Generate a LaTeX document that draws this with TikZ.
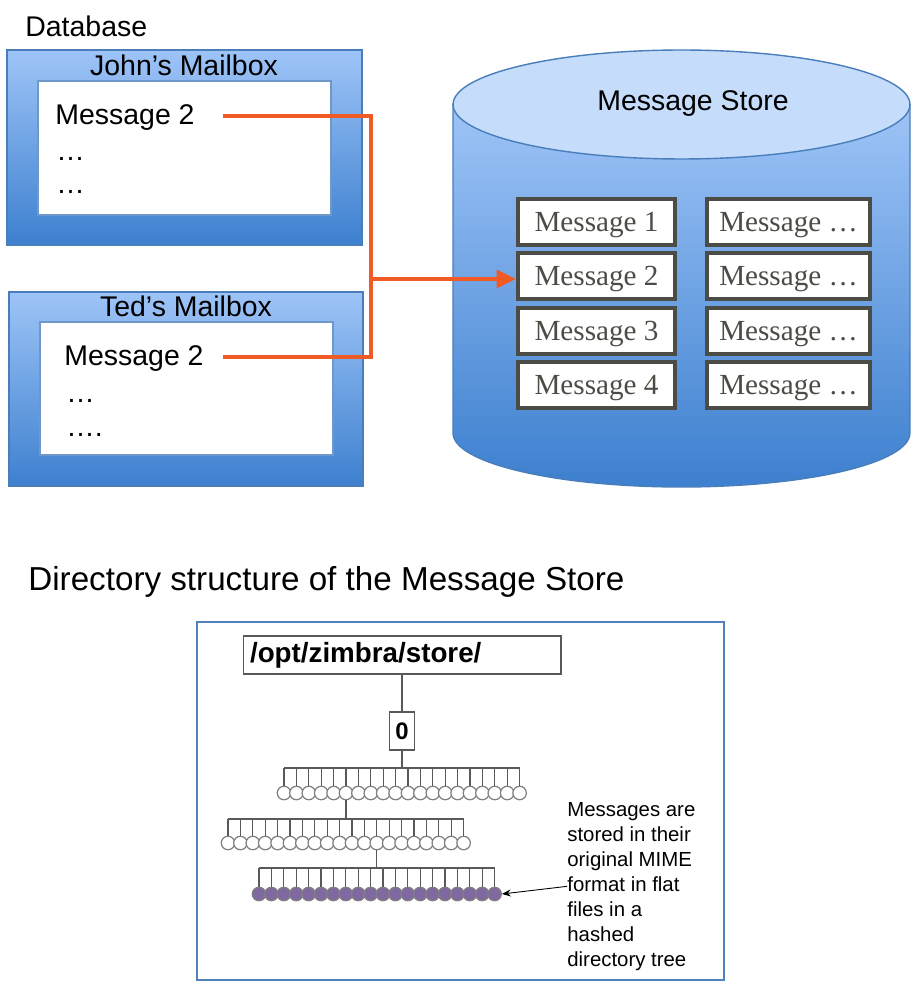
\documentclass[tikz,border=0pt]{standalone}
\usepackage{fontspec}
\setmainfont{Liberation Sans}
\newfontfamily\msgfont{Liberation Serif}
\usepackage{xcolor}
\definecolor{boxtop}{HTML}{9EC4F7}
\definecolor{boxbot}{HTML}{3D80CF}
\definecolor{edgeblue}{HTML}{4A7EBB}
\definecolor{lidblue}{HTML}{C5DCFB}
\definecolor{linkorange}{HTML}{F05A24}
\definecolor{msggray}{HTML}{4C4C47}
\definecolor{leafpurple}{HTML}{8068A0}
\definecolor{frameblue}{HTML}{4F81BD}
\definecolor{twiggray}{HTML}{595959}
\usetikzlibrary{arrows.meta, positioning, calc}

\begin{document}
\begin{tikzpicture}[x=0.02cm, y=-0.02cm,
    big/.style={font=\fontsize{16.2}{19}\selectfont, inner sep=0pt},
    mailbox/.style={draw=edgeblue, line width=0.8pt, top color=boxtop, bottom color=boxbot},
    inbox/.style={draw=edgeblue!80, line width=0.8pt, fill=white},
    link/.style={draw=linkorange, line width=2.3pt},
    msgbox/.style={draw=msggray, line width=2pt, fill=white, minimum height=0.93cm,
      inner sep=0pt, text depth=0pt, text=msggray, font=\msgfont\fontsize{16.6}{19}\selectfont},
    folder/.style={circle, draw=gray, line width=0.7pt, fill=white, minimum size=0.27cm, inner sep=0pt},
    leaf/.style={folder, fill=leafpurple},
    twig/.style={draw=twiggray, line width=0.7pt}]
  \useasboundingbox (0,0) rectangle (918,982);

  % Database with the two mailboxes
  \node[big, anchor=base west] (db) at (25,37) {Database};

  % John's mailbox
  \draw[mailbox] (7,50) rectangle (362,245);
  \draw[inbox] (38,81) rectangle (331,215);
  \node[big, anchor=base] (john) at (184,76) {John’s Mailbox};
  \node[big, anchor=base west] (jmsg) at (55,125) {Message 2};
  \node[big, anchor=base west] (jdots1) at (56,161) {…};
  \node[big, anchor=base west] (jdots2) at (56,194) {…};

  % Ted's mailbox
  \draw[mailbox] (9,292) rectangle (363,486);
  \draw[inbox] (40,322) rectangle (333,455);
  \node[big, anchor=base] (ted) at (186,317) {Ted’s Mailbox};
  \node[big, anchor=base west] (tmsg) at (64,366) {Message 2};
  \node[big, anchor=base west] (tdots1) at (66,402) {…};
  \node[big, anchor=base west] (tdots2) at (66,436) {….};

  % Message store cylinder
  \path[draw=edgeblue, line width=0.8pt, top color=boxtop, bottom color=boxbot]
    (453,104.5) -- (453,433) arc[start angle=180, end angle=360, x radius=4.57cm, y radius=1.08cm]
    -- (910,104.5) -- cycle;
  \draw[draw=edgeblue, line width=0.8pt, fill=lidblue] (681.5,104.5) ellipse[x radius=4.57cm, y radius=1.09cm];
  \node[big, anchor=base] (store) at (693,111) {Message Store};

  % stored messages
  \foreach \i/\y in {1/222, 2/276, 3/331, 4/385} {
    \node[msgbox, minimum width=3.15cm] (m\i) at (596.5,\y) {Message \i};
    \node[msgbox, minimum width=3.27cm] (r\i) at (788.5,\y) {Message …};
  }

  % both mailboxes point to the same copy
  \coordinate (jsrc) at (223,116);
  \coordinate (tsrc) at (223,357);
  \coordinate (bus) at (371,279);
  \draw[link] (jsrc) -| (bus);
  \draw[link] (tsrc) -| (bus);
  \draw[link, -{Triangle[length=11pt, width=10pt]}] (bus) -- (bus -| m2.west);

  % Directory structure
  \node[anchor=base west, inner sep=0pt, font=\fontsize{18.9}{22}\selectfont] (dirtitle) at (28,590)
    {Directory structure of the Message Store};
  \draw[draw=frameblue, line width=1.1pt] (197,622) rectangle (724,980);

  \node[draw=twiggray, line width=0.6pt, minimum height=0.76cm, text width=6.08cm, inner xsep=0.14cm,
    align=left, font=\bfseries\fontsize{15.8}{18}\selectfont] (root) at (402,655) {/opt/zimbra/store/};
  \node[draw=twiggray, line width=0.6pt, minimum width=0.5cm, minimum height=0.76cm, inner sep=0pt,
    font=\bfseries\fontsize{13.6}{16}\selectfont] (zero) at (402,731) {0};
  \draw[twig] (root) -- (zero);

  % first level
  \coordinate (bar1) at (402,768);
  \draw[twig] (zero) -- (bar1);
  \foreach \i in {0,...,19} {
    \node[folder] (a\i) at (284+\i*12.4,793) {};
    \draw[twig] (a\i.north) -- (a\i.north |- bar1);
  }
  \draw[twig] (a0.north |- bar1) -- (a19.north |- bar1);

  % second level
  \coordinate (bar2) at (346,819);
  \draw[twig] (a5.south) -- (a5.south |- bar2);
  \foreach \i in {0,...,19} {
    \node[folder] (b\i) at (228+\i*12.4,843) {};
    \draw[twig] (b\i.north) -- (b\i.north |- bar2);
  }
  \draw[twig] (b0.north |- bar2) -- (b19.north |- bar2);

  % third level, the message files
  \coordinate (bar3) at (377,868);
  \draw[twig] (b12.south) -- (b12.south |- bar3);
  \foreach \i in {0,...,19} {
    \node[leaf] (c\i) at (259+\i*12.4,894) {};
    \draw[twig] (c\i.north) -- (c\i.north |- bar3);
  }
  \draw[twig] (c0.north |- bar3) -- (c19.north |- bar3);

  \node[anchor=north west, inner sep=0pt, align=left, font=\fontsize{11.6}{14.2}\selectfont] (note) at (567,802)
    {Messages are\\stored in their\\original MIME\\format in flat\\files in a\\hashed\\directory tree};
  \draw[-{Stealth[length=5pt, width=4pt]}, line width=0.5pt] (note.west) -- (c19.east);
\end{tikzpicture}
\end{document}
